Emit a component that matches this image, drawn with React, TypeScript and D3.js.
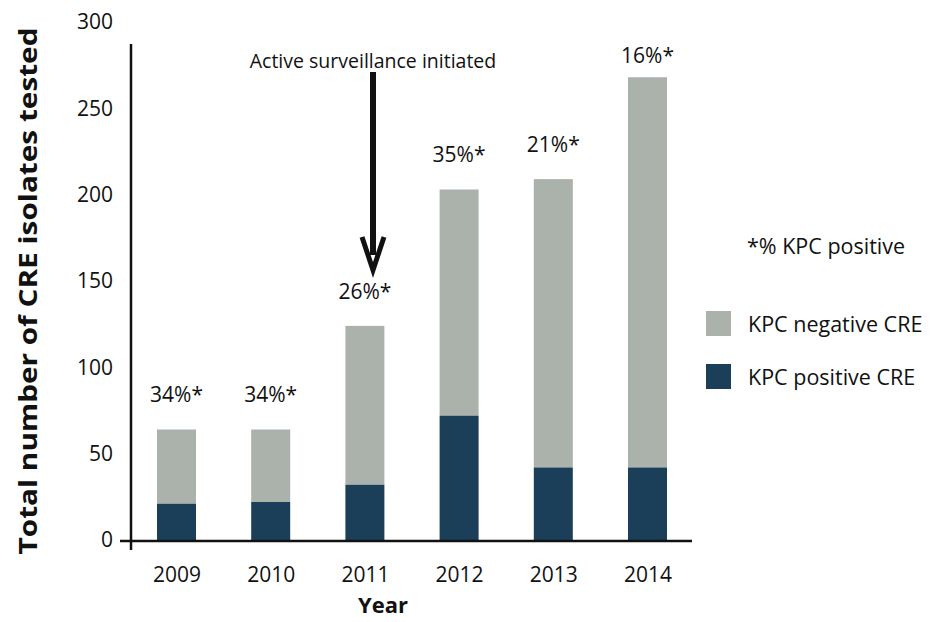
import React, { useEffect, useRef } from 'react';
import * as d3 from 'd3';

const years = ['2009', '2010', '2011', '2012', '2013', '2014'];
const positiveCounts = [21, 22, 32, 72, 42, 42];
const totalCounts = [64, 64, 124, 203, 209, 268];
const pctLabels = ['34%*', '34%*', '26%*', '35%*', '21%*', '16%*'];
const yTicks = [0, 50, 100, 150, 200, 250, 300];

const legendItems = [
  { label: 'KPC negative CRE', color: '#abb1ab' },
  { label: 'KPC positive CRE', color: '#1b3f58' },
];

export default function App() {
  const ref = useRef<SVGSVGElement>(null);

  useEffect(() => {
    const width = 942;
    const height = 622;
    const font = '"Open Sans", "Noto Sans", sans-serif';

    const svg = d3.select(ref.current);
    svg.selectAll('*').remove();
    svg.attr('width', width).attr('height', height);

    const xScale = d3.scalePoint<string>().domain(years).range([176.5, 647.5]);
    const yScale = d3.scaleLinear().domain([0, 300]).range([540, 22]);
    const barWidth = 39;

    const rows = years.map((year, i) => ({
      year,
      pos: positiveCounts[i],
      total: totalCounts[i],
      label: pctLabels[i],
    }));

    // negative part sits on top of the positive part
    svg
      .selectAll('rect.neg')
      .data(rows)
      .enter()
      .append('rect')
      .attr('class', 'neg')
      .attr('x', (d) => (xScale(d.year) as number) - barWidth / 2)
      .attr('y', (d) => yScale(d.total))
      .attr('width', barWidth)
      .attr('height', (d) => yScale(d.pos) - yScale(d.total))
      .attr('fill', legendItems[0].color);

    svg
      .selectAll('rect.pos')
      .data(rows)
      .enter()
      .append('rect')
      .attr('class', 'pos')
      .attr('x', (d) => (xScale(d.year) as number) - barWidth / 2)
      .attr('y', (d) => yScale(d.pos))
      .attr('width', barWidth)
      .attr('height', (d) => yScale(0) - yScale(d.pos))
      .attr('fill', legendItems[1].color);

    svg
      .selectAll('text.pct')
      .data(rows)
      .enter()
      .append('text')
      .attr('class', 'pct')
      .attr('x', (d) => xScale(d.year) as number)
      .attr('y', (d) => Math.max(yScale(d.total) - 35, 55))
      .attr('text-anchor', 'middle')
      .attr('dominant-baseline', 'central')
      .attr('font-family', font)
      .attr('font-size', 21)
      .attr('fill', '#111')
      .text((d) => d.label);

    // axes
    const yAxis = d3
      .axisLeft(yScale)
      .tickValues(yTicks)
      .tickSize(0)
      .tickPadding(18);
    const yg = svg.append('g').attr('transform', 'translate(131,0)').call(yAxis);
    yg.select('.domain').remove();
    yg.selectAll('text')
      .attr('font-family', font)
      .attr('font-size', 21)
      .attr('fill', '#111');

    const xAxis = d3.axisBottom(xScale).tickSize(0).tickPadding(27);
    const xg = svg.append('g').attr('transform', 'translate(0,540)').call(xAxis);
    xg.select('.domain').remove();
    xg.selectAll('text')
      .attr('font-family', font)
      .attr('font-size', 21)
      .attr('fill', '#111');

    svg
      .append('line')
      .attr('x1', 131)
      .attr('x2', 131)
      .attr('y1', 44)
      .attr('y2', 550)
      .attr('stroke', '#111')
      .attr('stroke-width', 2.5);
    svg
      .append('line')
      .attr('x1', 120)
      .attr('x2', 692)
      .attr('y1', 541)
      .attr('y2', 541)
      .attr('stroke', '#111')
      .attr('stroke-width', 2.5);

    // axis titles
    svg
      .append('text')
      .attr('transform', 'translate(27,291) rotate(-90)')
      .attr('text-anchor', 'middle')
      .attr('dominant-baseline', 'central')
      .attr('font-family', font)
      .attr('font-weight', 'bold')
      .attr('font-size', 25)
      .attr('textLength', 527)
      .attr('lengthAdjust', 'spacingAndGlyphs')
      .attr('fill', '#111')
      .text('Total number of CRE isolates tested');

    svg
      .append('text')
      .attr('x', 383)
      .attr('y', 604)
      .attr('text-anchor', 'middle')
      .attr('dominant-baseline', 'central')
      .attr('font-family', font)
      .attr('font-weight', 'bold')
      .attr('font-size', 22)
      .attr('fill', '#111')
      .text('Year');

    // annotation arrow
    svg
      .append('text')
      .attr('x', 373)
      .attr('y', 60)
      .attr('text-anchor', 'middle')
      .attr('dominant-baseline', 'central')
      .attr('font-family', font)
      .attr('font-size', 19.5)
      .attr('fill', '#111')
      .text('Active surveillance initiated');
    svg
      .append('line')
      .attr('x1', 373)
      .attr('x2', 373)
      .attr('y1', 72)
      .attr('y2', 255)
      .attr('stroke', '#111')
      .attr('stroke-width', 6);
    svg
      .append('path')
      .attr('d', d3.line()([[362, 237], [373, 270], [384, 237]]) as string)
      .attr('fill', 'none')
      .attr('stroke', '#111')
      .attr('stroke-width', 5);

    // legend
    svg
      .append('text')
      .attr('x', 747)
      .attr('y', 245)
      .attr('dominant-baseline', 'central')
      .attr('font-family', font)
      .attr('font-size', 21.5)
      .attr('fill', '#111')
      .text('*% KPC positive');

    const lg = svg
      .selectAll('g.legend')
      .data(legendItems)
      .enter()
      .append('g')
      .attr('class', 'legend')
      .attr('transform', (_d, i) => `translate(706, ${311 + i * 53})`);
    lg.append('rect')
      .attr('width', 25)
      .attr('height', 25)
      .attr('fill', (d) => d.color);
    lg.append('text')
      .attr('x', 42)
      .attr('y', 12.5)
      .attr('dominant-baseline', 'central')
      .attr('font-family', font)
      .attr('font-size', 21.5)
      .attr('fill', '#111')
      .text((d) => d.label);
  }, []);

  return (
    <svg
      ref={ref}
      style={{ position: 'absolute', left: 0, top: 0, display: 'block', background: '#fff' }}
    />
  );
}
